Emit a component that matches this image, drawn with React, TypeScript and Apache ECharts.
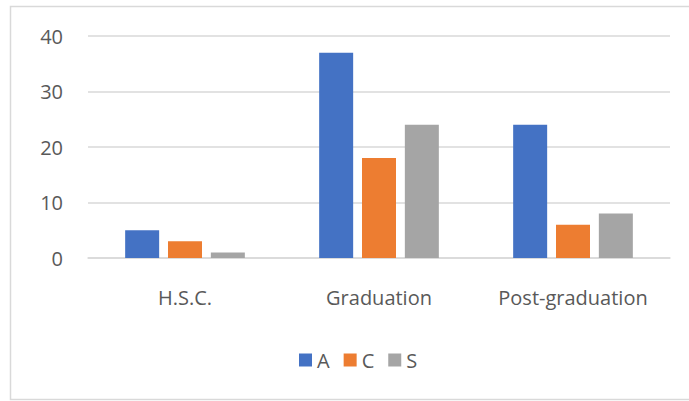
import React, { useEffect, useRef } from "react";
import * as echarts from "echarts";

const categories = ["H.S.C.", "Graduation", "Post-graduation"];
const seriesNames = ["A", "C", "S"];
const valuesA = [5, 37, 24];
const valuesC = [3, 18, 6];
const valuesS = [1, 24, 8];
const colors = ["#4472C4", "#ED7D31", "#A5A5A5"];

export default function App() {
  const ref = useRef<HTMLDivElement>(null);

  useEffect(() => {
    if (!ref.current) return;
    const chart = echarts.init(ref.current, null, { renderer: "svg" });
    const font = "'Open Sans', sans-serif";
    const data = [valuesA, valuesC, valuesS];
    chart.setOption({
      animation: false,
      color: colors,
      graphic: [
        {
          type: "rect",
          shape: { x: 10.5, y: 6.5, width: 690, height: 393 },
          style: { fill: "none", stroke: "#d9d9d9", lineWidth: 1.5 },
          silent: true,
        },
      ],
      grid: { left: 88, right: 19, top: 36, bottom: 143 },
      legend: {
        data: seriesNames,
        top: 345,
        left: 294,
        icon: "rect",
        itemWidth: 13,
        itemHeight: 13,
        itemGap: 14,
        textStyle: { fontFamily: font, fontSize: 20, color: "#595959" },
      },
      xAxis: {
        type: "category",
        data: categories,
        axisLine: { lineStyle: { color: "#d9d9d9", width: 1.5 } },
        axisTick: { show: false },
        axisLabel: {
          interval: 0,
          fontFamily: font,
          fontSize: 20,
          color: "#595959",
          margin: 29,
        },
      },
      yAxis: {
        type: "value",
        min: 0,
        max: 40,
        interval: 10,
        axisLine: { show: false },
        axisTick: { show: false },
        splitLine: { lineStyle: { color: "#d9d9d9", width: 1.5 } },
        axisLabel: { fontFamily: font, fontSize: 20, color: "#595959", margin: 25 },
      },
      series: seriesNames.map((name, i) => ({
        name,
        type: "bar",
        data: data[i],
        barWidth: 34,
        barGap: "26%",
      })),
    });
    return () => chart.dispose();
  }, []);

  return (
    <div
      ref={ref}
      style={{ position: "fixed", left: 0, top: 0, width: 689, height: 401, background: "#fff" }}
    />
  );
}
